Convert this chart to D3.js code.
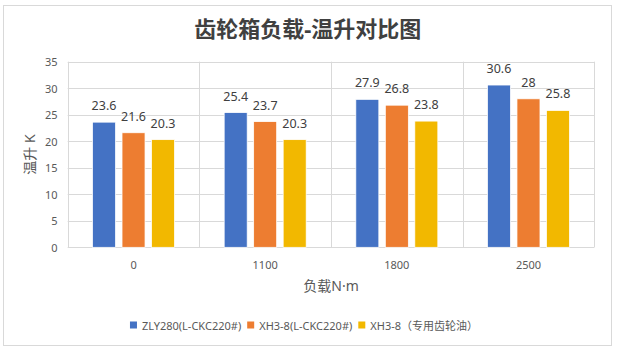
<!DOCTYPE html>
<html>
<head>
<meta charset="utf-8">
<script src="https://cdn.jsdelivr.net/npm/d3@7"></script>
<style>
  html, body { margin: 0; padding: 0; background: #fff; }
  svg { display: block; }
  text { font-family: "Noto Sans", "Noto Sans CJK SC", sans-serif; }
</style>
</head>
<body>
<svg id="chart" width="620" height="356"></svg>
<script>
const categories = ["0", "1100", "1800", "2500"];
const seriesNames = ["ZLY280(L-CKC220#)", "XH3-8(L-CKC220#)", "XH3-8（专用齿轮油）"];
const zly280 = [23.6, 25.4, 27.9, 30.6];
const xh38Ckc = [21.6, 23.7, 26.8, 28];
const xh38Special = [20.3, 20.3, 23.8, 25.8];
const yTicks = [0, 5, 10, 15, 20, 25, 30, 35];
const colors = ["#4472C4", "#ED7D31", "#F2B800"];
const titleText = "齿轮箱负载-温升对比图";
const xTitle = "负载N·m";
const yTitle = "温升 K";

const seriesValues = [zly280, xh38Ckc, xh38Special];

const svg = d3.select("#chart");
const plot = { left: 67.7, right: 594.3, top: 61.7, bottom: 247.3 };

// outer border
svg.append("rect")
  .attr("x", 3.5).attr("y", 5.5)
  .attr("width", 608).attr("height", 340)
  .attr("fill", "#fff").attr("stroke", "#D9D9D9").attr("stroke-width", 1);

// title
svg.append("text")
  .attr("x", 307.7).attr("y", 27.5)
  .attr("text-anchor", "middle").attr("dominant-baseline", "central")
  .attr("font-family", "'Noto Sans CJK SC', sans-serif")
  .attr("font-size", 22).attr("font-weight", "bold")
  .attr("fill", "#404040")
  .text(titleText);

const x0 = d3.scaleBand().domain(categories).range([plot.left, plot.right]).padding(0);
const bw = x0.bandwidth();
const x1 = d3.scaleBand().domain(d3.range(seriesNames.length))
  .range([(bw - 82) / 2, (bw + 82) / 2]).paddingInner(0.22).paddingOuter(0);
const y = d3.scaleLinear().domain([0, 35]).range([plot.bottom, plot.top]);

// horizontal gridlines
svg.append("g").selectAll("line").data(yTicks).join("line")
  .attr("x1", plot.left).attr("x2", plot.right)
  .attr("y1", d => Math.round(y(d)) + 0.5).attr("y2", d => Math.round(y(d)) + 0.5)
  .attr("stroke", "#D9D9D9").attr("stroke-width", 1);

// vertical gridlines at category boundaries
const bounds = categories.map(c => x0(c)).concat([plot.right]);
svg.append("g").selectAll("line").data(bounds).join("line")
  .attr("x1", d => Math.round(d) + 0.5).attr("x2", d => Math.round(d) + 0.5)
  .attr("y1", plot.top).attr("y2", plot.bottom)
  .attr("stroke", "#D9D9D9").attr("stroke-width", 1);

// y tick labels
svg.append("g").selectAll("text").data(yTicks).join("text")
  .attr("x", 57.5).attr("y", d => y(d))
  .attr("text-anchor", "end").attr("dominant-baseline", "central")
  .attr("font-size", 11).attr("fill", "#595959")
  .text(d => d);

// x tick labels
svg.append("g").selectAll("text").data(categories).join("text")
  .attr("x", d => x0(d) + bw / 2).attr("y", 264)
  .attr("text-anchor", "middle").attr("dominant-baseline", "central")
  .attr("font-size", 11).attr("fill", "#595959")
  .text(d => d);

// bars
const groups = svg.append("g").selectAll("g").data(categories).join("g")
  .attr("transform", d => `translate(${x0(d)},0)`);

groups.each(function(cat, ci) {
  const g = d3.select(this);
  seriesValues.forEach((vals, si) => {
    const v = vals[ci];
    g.append("rect")
      .attr("x", x1(si)).attr("y", y(v))
      .attr("width", x1.bandwidth()).attr("height", y(0) - y(v))
      .attr("fill", colors[si])
      .attr("stroke", "#fff").attr("stroke-width", 0.75);
    g.append("text")
      .attr("x", x1(si) + x1.bandwidth() / 2).attr("y", y(v) - 16.5)
      .attr("text-anchor", "middle").attr("dominant-baseline", "central")
      .attr("font-size", 12.5).attr("fill", "#404040")
      .text(v);
  });
});

// axis titles
svg.append("text")
  .attr("x", (plot.left + plot.right) / 2).attr("y", 285)
  .attr("text-anchor", "middle").attr("dominant-baseline", "central")
  .attr("font-size", 14).attr("fill", "#595959")
  .text(xTitle);

svg.append("text")
  .attr("transform", `translate(29,${(plot.top + plot.bottom) / 2}) rotate(-90)`)
  .attr("text-anchor", "middle").attr("dominant-baseline", "central")
  .attr("font-size", 14).attr("fill", "#595959")
  .text(yTitle);

// legend
const legend = svg.append("g");
const items = seriesNames.map((name, i) => {
  const g = legend.append("g");
  g.append("rect").attr("x", 0).attr("y", -3.5).attr("width", 7).attr("height", 7).attr("fill", colors[i]);
  const t = g.append("text").attr("x", 12).attr("y", 0)
    .attr("dominant-baseline", "central")
    .attr("font-size", 11).attr("fill", "#595959").text(name);
  return { g, w: 12 + t.node().getComputedTextLength() };
});
const gap = 6;
const totalW = d3.sum(items, d => d.w) + gap * (items.length - 1);
let lx = 304 - totalW / 2;
items.forEach(it => {
  it.g.attr("transform", `translate(${lx},325)`);
  lx += it.w + gap;
});
</script>
</body>
</html>
